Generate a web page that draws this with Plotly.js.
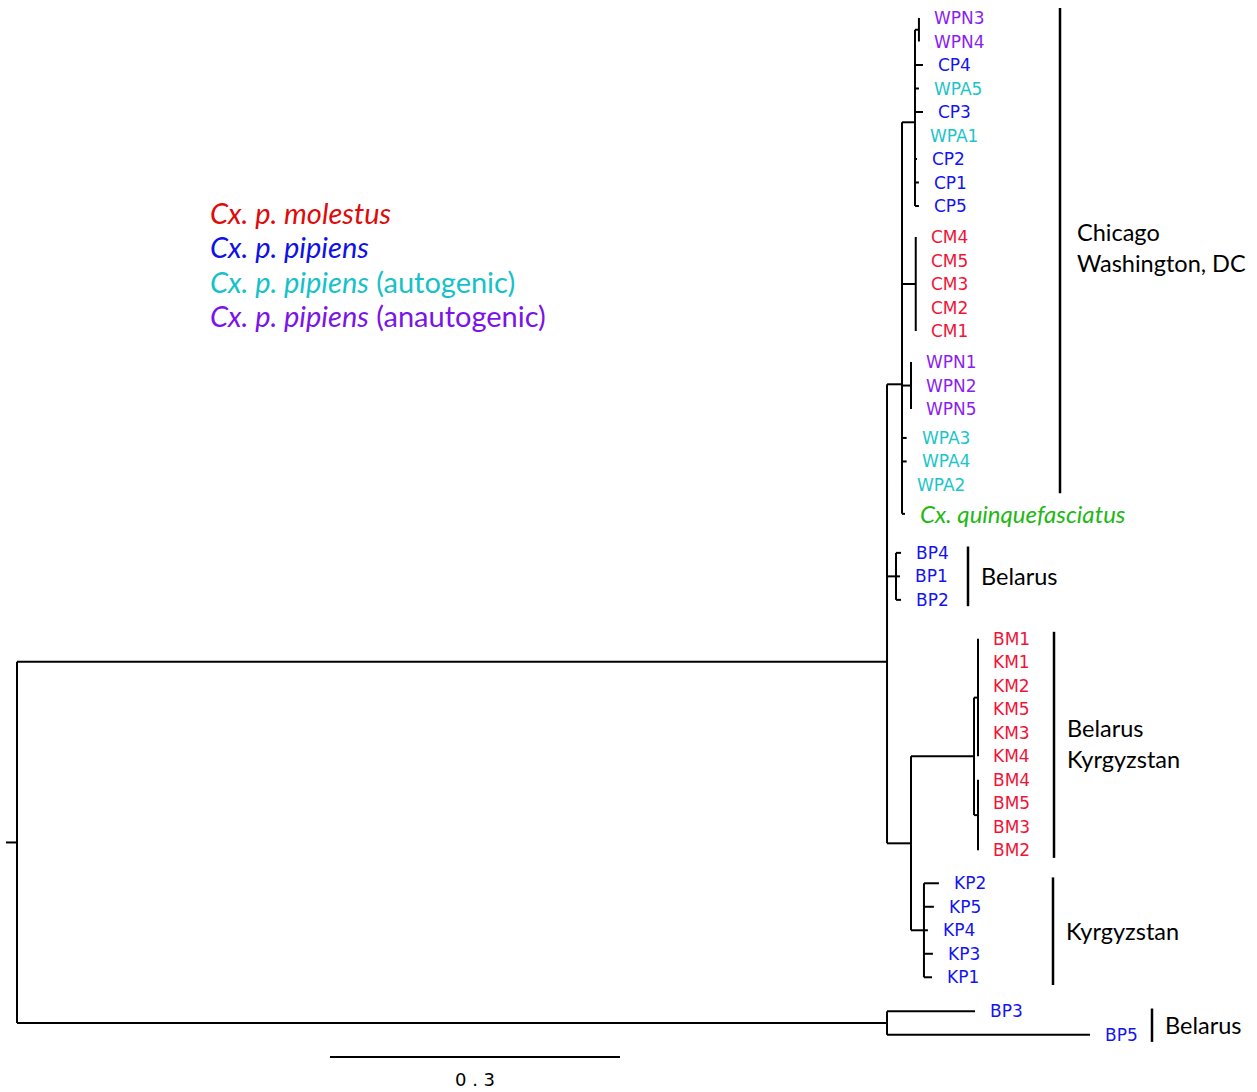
<!DOCTYPE html>
<html>
<head>
<meta charset="utf-8">
<script src="https://cdn.plot.ly/plotly-3.0.1.min.js"></script>
<style>html,body{margin:0;padding:0;background:#fff;}#chart{width:1257px;height:1092px;}</style>
</head>
<body>
<div id="chart"></div>
<script>
// ---------------- DATA ----------------
const leafNames = ['WPN3','WPN4','CP4','WPA5','CP3','WPA1','CP2','CP1','CP5',
  'CM4','CM5','CM3','CM2','CM1','WPN1','WPN2','WPN5','WPA3','WPA4','WPA2',
  'Cx. quinquefasciatus','BP4','BP1','BP2',
  'BM1','KM1','KM2','KM5','KM3','KM4','BM4','BM5','BM3','BM2',
  'KP2','KP5','KP4','KP3','KP1','BP3','BP5'];
const leafForm = ['anautogenic','anautogenic','pipiens','autogenic','pipiens','autogenic','pipiens','pipiens','pipiens',
  'molestus','molestus','molestus','molestus','molestus','anautogenic','anautogenic','anautogenic','autogenic','autogenic','autogenic',
  'quinquefasciatus','pipiens','pipiens','pipiens',
  'molestus','molestus','molestus','molestus','molestus','molestus','molestus','molestus','molestus','molestus',
  'pipiens','pipiens','pipiens','pipiens','pipiens','pipiens','pipiens'];
const leafParent = ['W34','W34','CPG','CPG','CPG','CPG','CPG','CPG','CPG',
  'CMG','CMG','CMG','CMG','CMG','WPNG','WPNG','WPNG','CHI','CHI','CHI',
  'CHI','BPG','BPG','BPG',
  'KMG','KMG','KMG','KMG','KMG','KMG','BMG','BMG','BMG','BMG',
  'KPG','KPG','KPG','KPG','KPG','BP35','BP35'];
const leafBranch = [0,0,0.0083,0.0041,0.0083,0,0.0021,0.0041,0.0041,
  0,0,0,0,0,0,0,0,0.0048,0.0048,0,
  0.0031,0.0052,0.0041,0.0052,
  0,0,0,0,0,0,0,0,0,0,
  0.0155,0.0103,0.0041,0.0093,0.0083,0.0910,0.2100];
// leaves after which the drawing leaves an extra gap (in rows)
const gapAfter = {'CP5':0.32,'CM1':0.32,'WPN5':0.23,'WPA2':0.23,'Cx. quinquefasciatus':0.66,'BP2':0.66,'BM2':0.40,'KP1':0.45};

const nodeNames  = ['ROOT','INGROUP','A','CHI','CPG','W34','CMG','WPNG','BPG','BK','BMKM','KMG','BMG','KPG','BP35'];
const nodeParent = [null,'ROOT','INGROUP','A','CHI','CPG','CHI','CHI','A','INGROUP','BK','BMKM','BMKM','BK','ROOT'];
const nodeBranch = [0.0114,0.900,0,0.0155,0.0134,0.0041,0.0142,0.0093,0.0093,0.0248,0.0652,0.0041,0.0041,0.0134,0.900];

const legendItems = ['Cx. p. molestus','Cx. p. pipiens','Cx. p. pipiens','Cx. p. pipiens'];
const legendSuffix = ['','','(autogenic)','(anautogenic)'];
const legendForm = ['molestus','pipiens','autogenic','anautogenic'];

const groupLines = [['Chicago','Washington, DC'],['Belarus'],['Belarus','Kyrgyzstan'],['Kyrgyzstan'],['Belarus']];
const groupFirst = ['WPN3','BP4','BM1','KP2','BP3'];
const groupLast  = ['WPA2','BP2','BM2','KP1','BP5'];

const scaleValue = 0.3;

// ---------------- STYLE / LAYOUT ----------------
const W = 1257, H = 1092;
const pxPerUnit = 966.7, rootPx = 17;
const rowPx = 23.5, row0Px = 18;
const colors = {molestus:'#f01438', pipiens:'#1414f0', autogenic:'#1ec4c8', anautogenic:'#8a1ef0', quinquefasciatus:'#22b814'};
const legendColors = {molestus:'#e00a0a', pipiens:'#1010e8', autogenic:'#16c2c8', anautogenic:'#7a14e8'};
const groupBarPx = [1060, 968, 1054, 1053, 1152];
const groupLabelGap = [15, 11, 11, 11, 11];
const groupLabelLift = [3, 0, 1, 0, 0];
const groupPadTop = [0.43, 0.27, 0.3, 0.25, 0.12];
const groupPadBot = [0.35, 0.27, 0.32, 0.33, 0.3];

// ---------------- TREE LAYOUT ----------------
const nodes = {};
nodeNames.forEach((n,i)=>{ nodes[n] = {name:n, parent:nodeParent[i], bl:nodeBranch[i], children:[], leaf:false}; });
let extra = 0;
leafNames.forEach((n,i)=>{
  nodes[n] = {name:n, parent:leafParent[i], bl:leafBranch[i], children:[], leaf:true, row:i+extra, form:leafForm[i]};
  if (gapAfter[n]) extra += gapAfter[n];
});
Object.values(nodes).forEach(nd=>{ if (nd.parent) nodes[nd.parent].children.push(nd); });
function setX(nd, x){ nd.x = x; nd.children.forEach(c=>setX(c, x + c.bl)); }
setX(nodes.ROOT, 0);
function setY(nd){ if (nd.leaf) return nd.row; const ys = nd.children.map(setY); nd.row = ys.reduce((a,b)=>a+b,0)/ys.length; nd.minY=Math.min(...ys); nd.maxY=Math.max(...ys); return nd.row; }
setY(nodes.ROOT);

const lx = [], ly = [];
Object.values(nodes).forEach(nd=>{
  if (nd.parent){ const p = nodes[nd.parent]; lx.push(p.x, nd.x, null); ly.push(nd.row, nd.row, null); }
  else { lx.push(nd.x - nd.bl, nd.x, null); ly.push(nd.row, nd.row, null); }
  if (!nd.leaf){ lx.push(nd.x, nd.x, null); ly.push(nd.minY, nd.maxY, null); }
});

const xRange = [-rootPx/pxPerUnit, (W-rootPx)/pxPerUnit];
const yRange = [(H-row0Px)/rowPx, -row0Px/rowPx];
const pxToPaperX = px => px/W;
const pxToPaperY = py => 1 - py/H;

const annotations = [];
leafNames.forEach(n=>{
  const nd = nodes[n];
  const isQ = nd.form === 'quinquefasciatus';
  annotations.push({x:nd.x, y:nd.row, xref:'x', yref:'y', text: isQ ? '<i>'+n+'</i>' : n, showarrow:false,
    xanchor:'left', yanchor:'middle', xshift: 13,
    font:{family: isQ ? 'Lato, sans-serif' : 'DejaVu Sans, sans-serif', size: isQ ? 24 : 17, color: colors[nd.form]}});
});
legendItems.forEach((t,i)=>{
  const c = legendColors[legendForm[i]];
  annotations.push({x:pxToPaperX(208), y:pxToPaperY(213 + 34*i), xref:'paper', yref:'paper', showarrow:false,
    xanchor:'left', yanchor:'middle', text:'<i>'+t+'</i>' + (legendSuffix[i] ? ' '+legendSuffix[i] : ''),
    font:{family:'Lato, sans-serif', size:29, color:c}});
});
const shapes = [];
groupLines.forEach((lines,i)=>{
  const y0 = nodes[groupFirst[i]].row - groupPadTop[i], y1 = nodes[groupLast[i]].row + groupPadBot[i];
  shapes.push({type:'line', xref:'paper', yref:'y', x0:pxToPaperX(groupBarPx[i]), x1:pxToPaperX(groupBarPx[i]), y0:y0, y1:y1, line:{color:'#000', width:2.5}});
  const yc = (y0+y1)/2;
  lines.forEach((t,j)=>{
    annotations.push({x:pxToPaperX(groupBarPx[i]+groupLabelGap[i]), y:yc, xref:'paper', yref:'y', showarrow:false, xanchor:'left', yanchor:'middle',
      yshift: groupLabelLift[i] + (lines.length===1 ? 0 : (j===0 ? 16 : -15.5)), text:t, font:{family:'Lato, sans-serif', size:23.5, color:'#000'}});
  });
});
// scale bar
const sbStart = (330-rootPx)/pxPerUnit;
const sbRow = (1057-row0Px)/rowPx;
shapes.push({type:'line', xref:'x', yref:'y', x0:sbStart, x1:sbStart+scaleValue, y0:sbRow, y1:sbRow, line:{color:'#000', width:2}});
annotations.push({x:sbStart+scaleValue/2, y:sbRow, xref:'x', yref:'y', showarrow:false, xanchor:'center', yanchor:'middle', yshift:-22,
  text:String(scaleValue).split('').join(' '), font:{family:'DejaVu Sans, sans-serif', size:18, color:'#000'}});

const trace = {x:lx, y:ly, mode:'lines', type:'scatter', line:{color:'#000', width:2}, hoverinfo:'skip'};
const layout = {width:W, height:H, margin:{l:0,r:0,t:0,b:0}, paper_bgcolor:'#fff', plot_bgcolor:'#fff', showlegend:false,
  xaxis:{range:xRange, visible:false, fixedrange:true}, yaxis:{range:yRange, visible:false, fixedrange:true},
  annotations:annotations, shapes:shapes};
Plotly.newPlot('chart', [trace], layout, {displayModeBar:false, staticPlot:true});
</script>
</body>
</html>
